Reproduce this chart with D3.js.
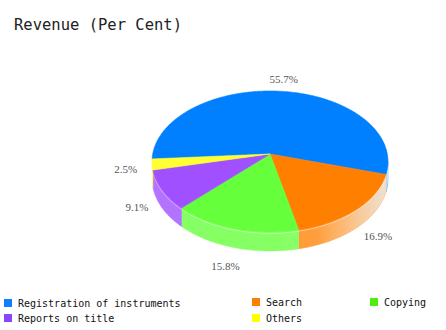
<!DOCTYPE html>
<html><head><meta charset="utf-8">
<script src="https://cdn.jsdelivr.net/npm/d3@7"></script>
<style>body{margin:0;background:#fff}svg{display:block}</style>
</head><body>
<svg id="c" width="446" height="330"></svg>
<script>
const categories = ["Registration of instruments","Search","Copying","Reports on title","Others"];
const values = [55.7, 16.9, 15.8, 9.1, 2.5];
const colors = ["#0080ff","#ff8000","#66ff3c","#a050ff","#ffff33"];
const legendColors = ["#1080ff","#ff7f00","#50ee10","#8844ff","#ffff00"];
const labels = ["55.7%","16.9%","15.8%","9.1%","2.5%"];

const svg = d3.select("#c");
// perspective pie geometry
const cx = 270, cy = 154, sx = 117.3, sy = 69.7, k = 0.106, D = 17;
const startDeg = 266;

svg.append("text").attr("x",14).attr("y",30)
  .attr("font-family","'DejaVu Sans Mono',monospace").attr("font-size",15.5)
  .attr("fill","#222").text("Revenue (Per Cent)");

const pie = d3.pie().sort(null).value(d=>d)
  .startAngle(startDeg*Math.PI/180).endAngle((startDeg+360)*Math.PI/180);
const arcs = pie(values);

// project a point on the (unit) circle at d3 angle a, radius r, dropped by h
function proj(a, r, h){
  const u = r*Math.sin(a), v = -r*Math.cos(a);
  const w = 1 - k*v;
  return [cx + sx*u/w, cy + (sy*v + (h||0))/w];
}
const line = d3.line();
function samples(a0,a1){
  const n = Math.max(2, Math.ceil(Math.abs(a1-a0)/(Math.PI/180)));
  const out=[];
  for(let i=0;i<=n;i++) out.push(a0+(a1-a0)*i/n);
  return out;
}

const defs = svg.append("defs");
const g = defs.append("linearGradient").attr("id","shine")
  .attr("gradientUnits","userSpaceOnUse").attr("x1",cx).attr("x2",cx+sx).attr("y1",0).attr("y2",0);
g.append("stop").attr("offset","0").attr("stop-color","#fff").attr("stop-opacity",0);
g.append("stop").attr("offset","0.4").attr("stop-color","#fff").attr("stop-opacity",0.05);
g.append("stop").attr("offset","1").attr("stop-color","#e8f4ff").attr("stop-opacity",0.8);

// sides
const sideG = svg.append("g");
const frontLo = 96*Math.PI/180, frontHi = 264*Math.PI/180;
arcs.forEach((d,i)=>{
  for(let m=0;m<3;m++){
    const lo = frontLo + 2*Math.PI*m, hi = frontHi + 2*Math.PI*m;
    const a0 = Math.max(d.startAngle, lo), a1 = Math.min(d.endAngle, hi);
    if(a1>a0){
      const s = samples(a0,a1);
      const pts = s.map(a=>proj(a,1,0)).concat(s.slice().reverse().map(a=>proj(a,1,D)));
      const c = d3.interpolateRgb(colors[i],"#ffffff")(0.2);
      sideG.append("path").attr("d",line(pts)+"Z").attr("fill",c).attr("stroke",c).attr("stroke-width",0.5);
      sideG.append("path").attr("d",line(pts)+"Z").attr("fill","url(#shine)");
      sideG.append("path").attr("d",line(s.map(a=>proj(a,1,1.2)))).attr("fill","none")
        .attr("stroke","#ffffff").attr("stroke-opacity",0.45).attr("stroke-width",1);
    }
  }
});

// top surfaces
const topG = svg.append("g");
arcs.forEach((d,i)=>{
  const s = samples(d.startAngle,d.endAngle);
  const pts = [[cx,cy]].concat(s.map(a=>proj(a,1,0)));
  topG.append("path").attr("d",line(pts)+"Z").attr("fill",colors[i])
    .attr("stroke",colors[i]).attr("stroke-width",0.6);
});

// percentage labels
arcs.forEach((d,i)=>{
  const m = (d.startAngle+d.endAngle)/2;
  const front = Math.max(0, -Math.cos(m));
  const [x,y] = proj(m, 1.22, D*front);
  svg.append("text").attr("x",x).attr("y",y+4).attr("text-anchor","middle")
    .attr("font-family","'Liberation Serif','Times New Roman',serif").attr("font-size",11)
    .attr("fill","#555").text(labels[i]);
});

// legend
const legendPos = [[4,299],[252,298],[370,298],[4,314],[252,314]];
categories.forEach((c,i)=>{
  const [x,y] = legendPos[i];
  svg.append("rect").attr("x",x).attr("y",y).attr("width",8).attr("height",8).attr("fill",legendColors[i]);
  svg.append("text").attr("x",x+14).attr("y",y+8)
    .attr("font-family","'DejaVu Sans Mono',monospace").attr("font-size",10)
    .attr("fill","#111").text(c);
});
</script>
</body></html>
